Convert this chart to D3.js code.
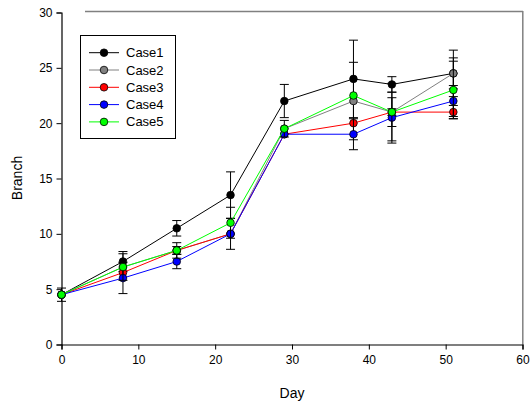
<!DOCTYPE html>
<html>
<head>
<meta charset="utf-8">
<script src="https://cdn.jsdelivr.net/npm/d3@7"></script>
<style>
  html, body { margin: 0; padding: 0; background: #fff; }
  svg { display: block; font-family: "Liberation Sans", Arial, sans-serif; }
</style>
</head>
<body>
<svg id="chart" width="530" height="406"></svg>
<script>
const days  = [0, 8, 15, 22, 29, 38, 43, 51];
const seriesNames = ["Case1", "Case2", "Case3", "Case4", "Case5"];
const case1 = [4.5, 7.5, 10.5, 13.5, 22, 24, 23.5, 24.5];
const case2 = [4.5, 7, 8.5, 10, 19.5, 22, 21, 24.5];
const case3 = [4.5, 6.5, 8.5, 10, 19, 20, 21, 21];
const case4 = [4.5, 6, 7.5, 10, 19, 19, 20.5, 22];
const case5 = [4.5, 7, 8.5, 11, 19.5, 22.5, 21, 23];
const err1 = [0.6, 0.9, 0.7, 2.1, 1.5, 3.5, 0.7, 1.4];
const err2 = [0, 0, 0, 0, 0, 3.5, 1.3, 2.1];
const err3 = [0, 0, 0.35, 0, 0, 0, 0.3, 0.6];
const err4 = [0, 1.4, 0.65, 1.4, 0, 1.4, 2.3, 1.4];
const err5 = [0, 1.2, 0.7, 1.4, 0.75, 0, 2.6, 2.6];
const xTicks = [0, 10, 20, 30, 40, 50, 60];
const yTicks = [0, 5, 10, 15, 20, 25, 30];
const lineColors = ["#000000", "#808080", "#ff0000", "#0000ff", "#00ff00"];
const fillColors = ["#000000", "#808080", "#ff0000", "#0000ff", "#00ff00"];

const values = [case1, case2, case3, case4, case5];
const errors = [err1, err2, err3, err4, err5];

const svg = d3.select("#chart");
const x = d3.scaleLinear().domain([0, 60]).range([61.5, 522.5]);
const y = d3.scaleLinear().domain([0, 30]).range([344.5, 12.5]);

// gray frame (top and right)
svg.append("line").attr("x1", 85).attr("x2", 523).attr("y1", 11.5).attr("y2", 11.5)
  .attr("stroke", "#808080").attr("stroke-width", 1.5);
svg.append("line").attr("x1", 522.8).attr("x2", 522.8).attr("y1", 11).attr("y2", 344.5)
  .attr("stroke", "#808080").attr("stroke-width", 1.5);

// axes
const xAxis = svg.append("g").attr("transform", `translate(0,${y(0)})`)
  .call(d3.axisBottom(x).tickValues(xTicks).tickSize(5).tickPadding(6).tickFormat(d3.format("d")));
const yAxis = svg.append("g").attr("transform", `translate(${x(0)},0)`)
  .call(d3.axisLeft(y).tickValues(yTicks).tickSize(5).tickPadding(4).tickFormat(d3.format("d")));
[xAxis, yAxis].forEach(g => {
  g.select(".domain").attr("stroke", "#000").attr("stroke-width", 1.2);
  g.selectAll(".tick line").attr("stroke", "#000");
  g.selectAll(".tick text").attr("font-size", 12).attr("fill", "#000")
    .attr("font-family", "'Liberation Sans', Arial, sans-serif");
});

// axis titles
svg.append("text").attr("x", 292).attr("y", 398).attr("text-anchor", "middle")
  .attr("font-size", 14).text("Day");
svg.append("text").attr("transform", "translate(22,178) rotate(-90)").attr("text-anchor", "middle")
  .attr("font-size", 14).text("Branch");

// series
const line = d3.line().x(d => x(d[0])).y(d => y(d[1]));
values.forEach((vals, si) => {
  const pts = days.map((d, i) => [d, vals[i], errors[si][i]]);
  const g = svg.append("g");
  g.append("path").attr("d", line(pts)).attr("fill", "none")
    .attr("stroke", lineColors[si]).attr("stroke-width", 1);
  pts.filter(p => p[2] > 0).forEach(p => {
    const cx = x(p[0]);
    g.append("line").attr("x1", cx).attr("x2", cx).attr("y1", y(p[1] - p[2])).attr("y2", y(p[1] + p[2]))
      .attr("stroke", "#000").attr("stroke-width", 1);
    [p[1] - p[2], p[1] + p[2]].forEach(v => {
      g.append("line").attr("x1", cx - 4.5).attr("x2", cx + 4.5).attr("y1", y(v)).attr("y2", y(v))
        .attr("stroke", "#000").attr("stroke-width", 1);
    });
  });
  g.selectAll("circle").data(pts).join("circle")
    .attr("cx", d => x(d[0])).attr("cy", d => y(d[1])).attr("r", 3.8)
    .attr("fill", fillColors[si]).attr("stroke", "#000").attr("stroke-width", 0.8);
});

// legend
const lg = svg.append("g");
lg.append("rect").attr("x", 80.5).attr("y", 35.5).attr("width", 95).attr("height", 103)
  .attr("fill", "#fff").attr("stroke", "#000").attr("stroke-width", 1);
seriesNames.forEach((name, i) => {
  const ry = 52.7 + i * 17.3;
  lg.append("line").attr("x1", 89).attr("x2", 119).attr("y1", ry).attr("y2", ry)
    .attr("stroke", lineColors[i]).attr("stroke-width", 1);
  lg.append("circle").attr("cx", 104).attr("cy", ry).attr("r", 3.8)
    .attr("fill", fillColors[i]).attr("stroke", "#000").attr("stroke-width", 0.8);
  lg.append("text").attr("x", 126).attr("y", ry + 4.5).attr("font-size", 13).text(name);
});
</script>
</body>
</html>
